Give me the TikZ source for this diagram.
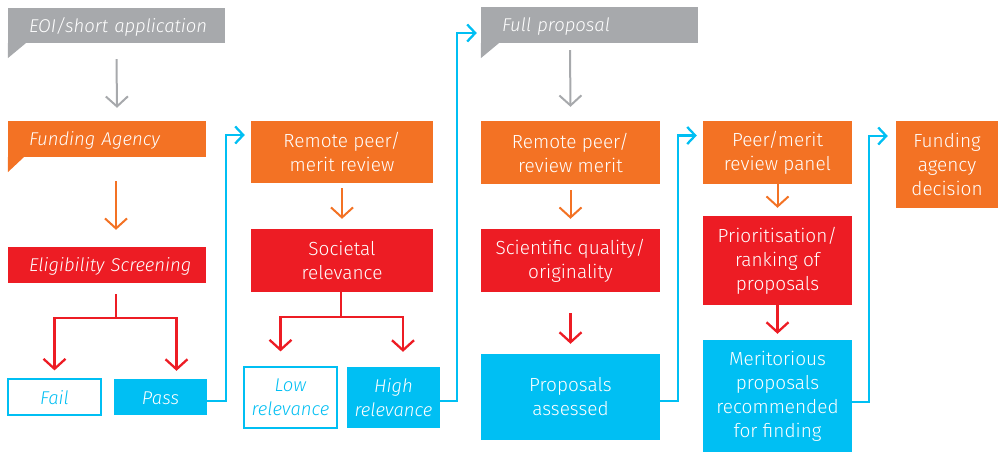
\documentclass[tikz,border=0pt]{standalone}
\usepackage{fontspec}
\setmainfont{Fira Sans Light}
\usetikzlibrary{arrows.meta}
\definecolor{cOr}{HTML}{F37224}
\definecolor{cRd}{HTML}{ED1C24}
\definecolor{cCy}{HTML}{00BFF3}
\definecolor{cGy}{HTML}{A7A9AC}
\begin{document}
\begin{tikzpicture}[x=1pt,y=-1pt,
  box/.style={inner sep=0pt, align=center, text=white, font=\fontsize{19}{24}\selectfont},
  ibox/.style={inner sep=0pt, align=left, text=white, text height=13pt, text depth=0pt, font=\fontsize{18.5}{24}\selectfont\itshape},
  obox/.style={inner sep=0pt, align=center, text=cCy, fill=white, draw=cCy, line width=1.2pt, font=\fontsize{18.5}{24}\selectfont\itshape},
  cbox/.style={inner sep=0pt, align=center, text=white, fill=cCy, font=\fontsize{18.5}{24}\selectfont\itshape},
  oneline/.style={text height=14pt, text depth=0pt},
  bigtip/.style={-{Straight Barb[length=10pt,width=22pt]}},
  smalltip/.style={-{Straight Barb[length=8pt,width=17pt]}},
  gline/.style={draw=cGy, line width=2pt, bigtip},
  oline/.style={draw=cOr, line width=2pt, bigtip},
  rline/.style={draw=cRd, line width=2.3pt},
  rarr/.style={draw=cRd, line width=2.3pt, bigtip},
  cline/.style={draw=cCy, line width=2.3pt, smalltip},
]
\useasboundingbox (0,0) rectangle (998,453);

% column 1
\node[ibox, fill=cGy, text width=217pt, minimum height=35pt] (eoi) at (116.5,25.5) {\hspace*{21pt}EOI/short application};
\fill[cGy] (eoi.south west) -- ++(18,0) -- ++(-18,15) -- cycle;
\node[ibox, fill=cOr, text width=198pt, minimum height=36pt] (fa) at (107,139) {\hspace*{21pt}Funding Agency};
\fill[cOr] (fa.south west) -- ++(16,0) -- ++(-16,15) -- cycle;
\node[ibox, fill=cRd, text width=198pt, minimum height=36pt] (el) at (107,265) {\hspace*{21pt}Eligibility Screening};
\node[obox, oneline, minimum width=93pt, minimum height=36pt] (fail) at (54.5,397) {Fail};
\node[cbox, oneline, minimum width=93pt, minimum height=36pt] (pass) at (160.5,397) {Pass};

% column 2
\node[box, fill=cOr, minimum width=182pt, minimum height=62pt] (rp1) at (342,152) {Remote peer/\\merit review};
\node[box, fill=cRd, minimum width=182pt, minimum height=63pt] (soc) at (342,260.5) {Societal\\relevance};
\node[obox, minimum width=93pt, minimum height=61pt] (low) at (290.5,397.5) {Low\\relevance};
\node[cbox, minimum width=93pt, minimum height=61pt] (high) at (393.5,397.5) {High\\relevance};

% column 3
\node[ibox, fill=cGy, text width=217pt, minimum height=36pt] (fp) at (589.5,25) {\hspace*{21pt}Full proposal};
\fill[cGy] (fp.south west) -- ++(18,0) -- ++(-18,15) -- cycle;
\node[box, fill=cOr, minimum width=179pt, minimum height=63pt] (rp2) at (570.5,152.5) {Remote peer/\\review merit};
\node[box, fill=cRd, minimum width=179pt, minimum height=63pt] (sq) at (570.5,260.5) {Scientific quality/\\originality};
\node[box, fill=cCy, minimum width=179pt, minimum height=86pt] (pa) at (570.5,397) {Proposals\\assessed};

% column 4
\node[box, fill=cOr, minimum width=149pt, minimum height=63pt] (pp) at (777.5,152.5) {Peer/merit\\review panel};
\node[box, fill=cRd, minimum width=149pt, minimum height=89pt] (pr) at (777.5,260.5) {Prioritisation/\\ranking of\\proposals};
\node[box, fill=cCy, minimum width=149pt, minimum height=112pt] (mer) at (777.5,396) {Meritorious\\proposals\\recommended\\for finding};

% column 5
\node[box, fill=cOr, minimum width=102pt, minimum height=87pt] (fad) at (947,164.5) {Funding\\agency\\decision};

% vertical arrows
\draw[gline] ([yshift=-16pt]eoi.south) -- ([xshift=10pt,yshift=13pt]fa.north);
\draw[oline] ([xshift=9pt,yshift=-24pt]fa.south) -- ([xshift=9pt,yshift=17pt]el.north);
\draw[oline] ([yshift=-5pt]rp1.south) -- ([yshift=10pt]soc.north);
\draw[gline] ([xshift=-19.5pt,yshift=-7pt]fp.south) -- ([yshift=14pt]rp2.north);
\draw[oline] ([yshift=-6pt]rp2.south) -- ([yshift=10pt]sq.north);
\draw[rarr] ([yshift=-21pt]sq.south) -- ([yshift=10pt]pa.north);
\draw[oline] (pp.south) -- ([yshift=8pt]pr.north);
\draw[rarr] (pr.south) -- ([yshift=6pt]mer.north);

% branches
\coordinate (elb) at ([xshift=9pt,yshift=-11pt]el.south);
\draw[rline] (elb) -- ++(0,24);
\draw[rarr] ([yshift=-24pt]elb) -| ([yshift=8pt]fail.north);
\draw[rarr] ([yshift=-24pt]elb) -| ([xshift=16pt,yshift=8pt]pass.north);
\coordinate (socb) at ([xshift=-1pt]soc.south);
\draw[rline] (socb) -- ++(0,25);
\draw[rarr] ([yshift=-25pt]socb) -| ([xshift=-10pt,yshift=15pt]low.north);
\draw[rarr] ([yshift=-25pt]socb) -| ([xshift=9.5pt,yshift=15pt]high.north);

% cyan connectors
\draw[cline] ([yshift=-4pt]pass.east) -- ++(19,0) |- ([xshift=-6pt,yshift=17pt]rp1.west);
\draw[cline] ([yshift=-3.5pt]high.east) -- ++(17,0) |- ([xshift=-4pt,yshift=-8pt]fp.west);
\draw[cline] ([yshift=-4pt]pa.east) -- ++(18,0) |- ([xshift=-6pt,yshift=17pt]pp.west);
\draw[cline] ([yshift=-6pt]mer.east) -- ++(17,0) |- ([xshift=-8pt,yshift=28.5pt]fad.west);
\end{tikzpicture}
\end{document}
